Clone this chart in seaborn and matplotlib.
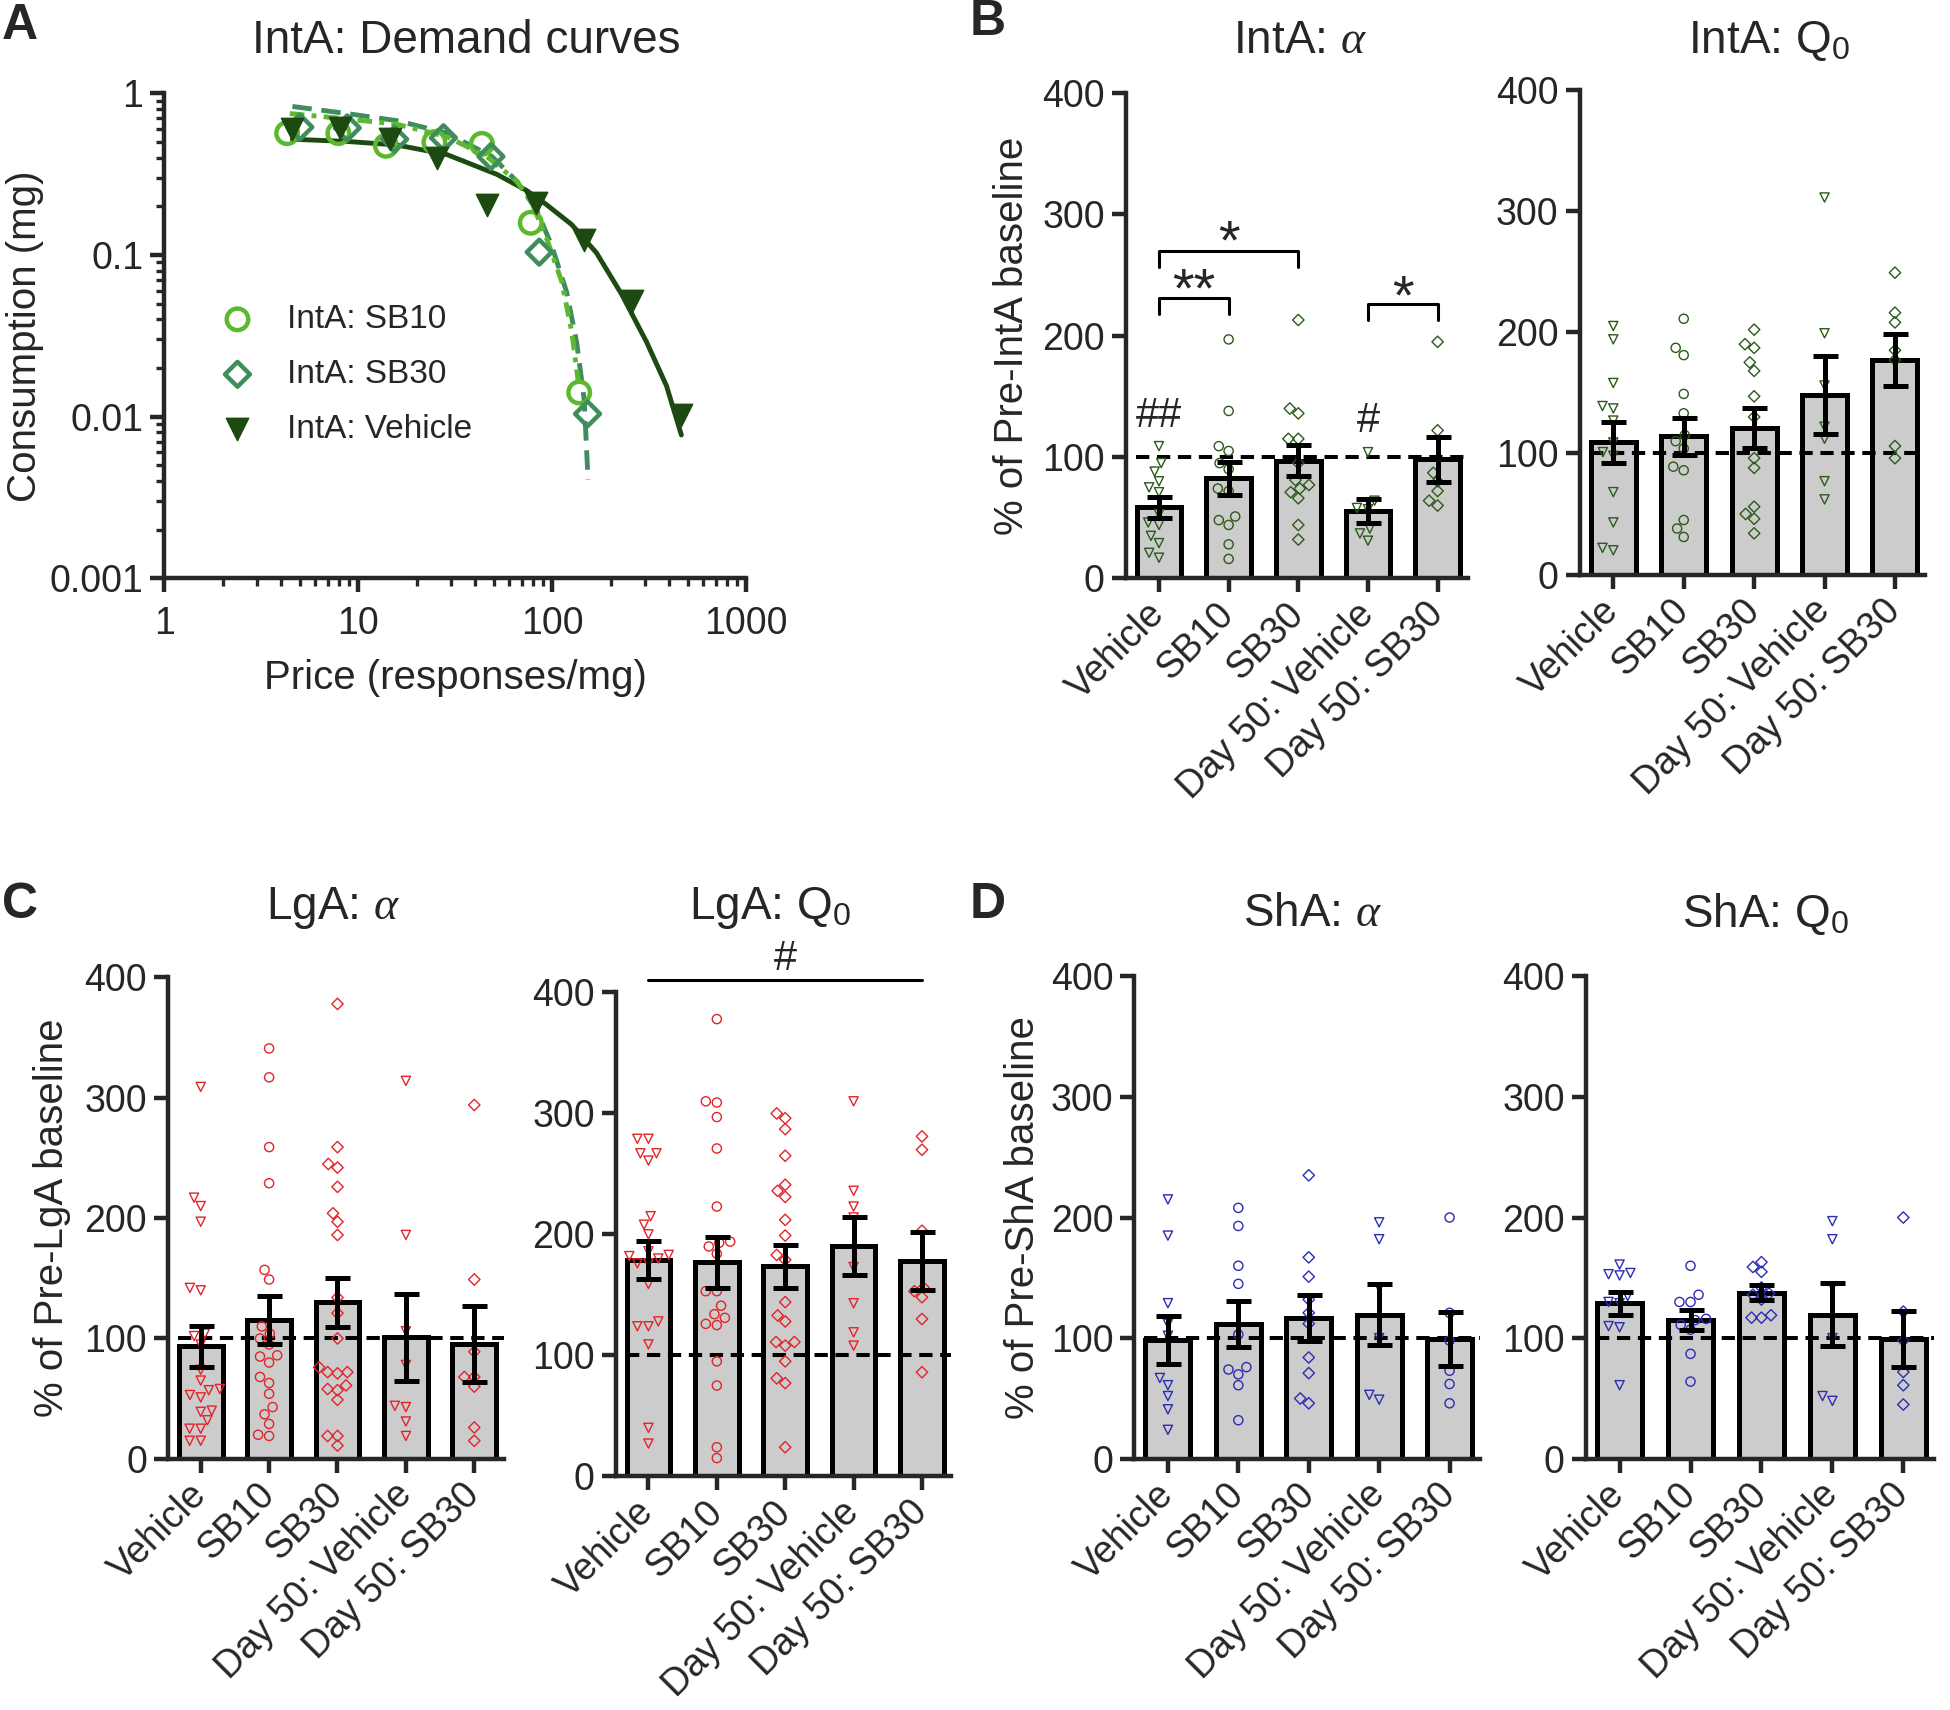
import numpy as np
import pandas as pd
import matplotlib
matplotlib.use("Agg")
import matplotlib.pyplot as plt
import seaborn as sns

sns.set_style("ticks")
plt.rcParams['font.family'] = ['Liberation Sans', 'DejaVu Sans']
plt.rcParams['mathtext.fontset'] = 'custom'
plt.rcParams['mathtext.rm'] = 'Liberation Sans'
plt.rcParams['mathtext.it'] = 'Liberation Serif:italic'

# ---------------- data ----------------
groups = ["Vehicle", "SB10", "SB30", "Day 50: Vehicle", "Day 50: SB30"]

# panel A: demand curves (points)
price_sb10 = [4.3, 7.9, 13.9, 24.7, 43.4, 77.5, 137.7]
cons_sb10 = [0.566, 0.566, 0.473, 0.498, 0.486, 0.158, 0.0141]
price_sb30 = [5.0, 8.78, 15.4, 27.5, 48.3, 85.7, 152]
cons_sb30 = [0.617, 0.61, 0.519, 0.53, 0.406, 0.104, 0.0104]
price_veh = [4.58, 8.03, 14.5, 25.5, 46, 82.2, 146, 259, 463]
cons_veh = [0.60, 0.61, 0.52, 0.40, 0.204, 0.21, 0.123, 0.052, 0.0103]

# panel A: fitted curves
fit_veh_x = [4.58, 8.78, 15.87, 28.7, 51.8, 73.9, 93.7, 126, 169, 228, 306, 388, 463]
fit_veh_y = [0.519, 0.503, 0.478, 0.417, 0.315, 0.25, 0.204, 0.154, 0.103, 0.057, 0.029, 0.0155, 0.0077]
fit_sb10_x = [4.44, 8.78, 15.87, 28.7, 46.0, 65.7, 78.4, 93.7, 111.9, 126, 137.6]
fit_sb10_y = [0.748, 0.693, 0.642, 0.538, 0.406, 0.285, 0.21, 0.126, 0.0684, 0.0336, 0.0149]
fit_sb30_x = [4.58, 8.78, 15.87, 28.7, 48.9, 65.7, 83.2, 99.4, 118.7, 133.6, 146, 153]
fit_sb30_y = [0.828, 0.748, 0.676, 0.566, 0.406, 0.285, 0.189, 0.114, 0.0588, 0.0288, 0.0128, 0.00406]

# panel B: IntA alpha
intA_alpha = [
    [109, 95, 88, 80, 75, 71, 53, 46, 44, 35, 29, 21, 17],
    [197, 138, 109, 105, 95, 90, 74, 72, 51, 48, 44, 28, 16],
    [213, 140, 136, 115, 115, 95, 81, 77, 71, 74, 66, 44, 32],
    [104, 64, 58, 57, 41, 37, 31],
    [195, 122, 87, 80, 72, 64, 60],
]
intA_alpha_mean = [58.5, 82.5, 97, 55.5, 98]
intA_alpha_sem = [8.5, 13.5, 13, 9.5, 18.5]

# panel B: IntA Q0
intA_q0 = [
    [205, 194, 158, 139, 137, 127, 109, 101, 98, 68, 43, 22, 20],
    [211, 187, 181, 149, 133, 115, 110, 104, 89, 86, 45, 38, 31],
    [202, 190, 187, 175, 168, 147, 130, 96, 88, 56, 50, 46, 34],
    [311, 199, 156, 122, 112, 77, 62],
    [249, 216, 208, 185, 177, 106, 96],
]
intA_q0_mean = [109, 114, 121, 148, 177]
intA_q0_sem = [17, 15, 16.5, 32, 21.5]

# panel C: LgA alpha
lgA_alpha = [
    [309, 217, 210, 197, 142, 140, 104, 102, 95, 74, 65, 57, 58, 51, 53, 39, 40, 32, 25, 25, 15, 15],
    [341, 317, 259, 229, 157, 149, 110, 104, 100, 95, 85, 86, 80, 68, 63, 54, 43, 37, 29, 19, 20],
    [378, 259, 245, 242, 226, 204, 197, 186, 134, 121, 100, 76, 72, 71, 72, 61, 57, 58, 49, 19, 19, 11],
    [314, 186, 106, 78, 43, 44, 31, 19],
    [294, 149, 89, 68, 68, 60, 26, 15],
]
lgA_alpha_mean = [93.5, 115.5, 130, 101, 95.5]
lgA_alpha_sem = [17, 20, 20.5, 36, 31.5]

# panel C: LgA Q0
lgA_q0 = [
    [279, 279, 267, 267, 261, 215, 208, 200, 186, 183, 182, 180, 176, 176, 159, 124, 124, 128, 109, 40, 27],
    [378, 309, 310, 297, 271, 223, 193, 194, 190, 184, 153, 153, 141, 134, 131, 126, 125, 95, 75, 24, 15],
    [300, 296, 287, 265, 241, 236, 231, 212, 199, 183, 179, 144, 133, 128, 111, 108, 111, 95, 81, 77, 24],
    [310, 236, 223, 214, 173, 143, 119, 108],
    [281, 270, 203, 156, 153, 148, 130, 86],
]
lgA_q0_mean = [179, 177, 173.5, 190, 178]
lgA_q0_sem = [15.5, 21, 17.5, 24, 24]

# panel D: ShA alpha
shA_alpha = [
    [215, 185, 129, 112, 102, 67, 61, 52, 41, 24],
    [208, 193, 160, 145, 103, 76, 74, 70, 61, 32],
    [235, 167, 151, 132, 121, 112, 84, 71, 50, 46],
    [196, 182, 142, 100, 53, 49],
    [200, 121, 98, 73, 62, 46],
]
shA_alpha_mean = [98.5, 111.5, 116.5, 119.5, 99.5]
shA_alpha_sem = [20, 19, 19, 25, 22.5]

# panel D: ShA Q0
shA_q0 = [
    [161, 153, 152, 154, 135, 129, 130, 110, 109, 61],
    [160, 136, 130, 130, 115, 116, 111, 107, 87, 64],
    [163, 155, 159, 142, 137, 136, 132, 119, 117, 117],
    [197, 182, 143, 100, 52, 48],
    [200, 122, 98, 72, 61, 45],
]
shA_q0_mean = [129, 115, 137.8, 119.5, 99.5]
shA_q0_sem = [9.5, 8.5, 6, 26, 23]

mk_std = ['v', 'o', 'D', 'v', 'D']
mk_sha_alpha = ['v', 'o', 'D', 'v', 'o']

green_pts = "#2b5a1a"
red_pts = "#e2242a"
blue_pts = "#2c2cb4"
c_sb10 = "#5cb82e"
c_sb30 = "#3f8c5c"
c_veh = "#1d4a10"

TICK_FS = 27
LAB_FS = 29
TITLE_FS = 33
LW = 3.2

fig = plt.figure(figsize=(19.5, 17.1), dpi=100)


def style_axes(ax):
    sns.despine(ax=ax)
    for s in ["left", "bottom"]:
        ax.spines[s].set_linewidth(LW)
    ax.tick_params(which="major", length=10, width=LW, labelsize=TICK_FS, pad=5)


def bar_panel(ax, values, means, sems, markers, color, ylabel=None, labelpad=8):
    sns.barplot(x=groups, y=means, order=groups, color="#cccccc", saturation=1,
                edgecolor="black", linewidth=LW + 0.4, width=0.64, errorbar=None,
                ax=ax, zorder=1)
    ax.axhline(100, xmin=0.03, xmax=1, color="black", lw=2.9,
               ls=(0, (3.3, 1.9)), zorder=2)
    for g, vals, m in zip(groups, values, markers):
        sz = 5.8 if m == 'D' else 6.6
        sns.swarmplot(x=[g] * len(vals), y=vals, order=groups, marker=m, size=sz,
                      color=color, facecolor="none", edgecolor=color, linewidth=1.0,
                      ax=ax, zorder=3, warn_thresh=1)
    ax.errorbar(range(len(groups)), means, yerr=sems, fmt="none", ecolor="black",
                elinewidth=LW + 0.4, capsize=9, capthick=LW + 0.4, zorder=4)
    ax.set_xlim(-0.48, 4.43)
    ax.set_ylim(0, 400)
    ax.set_yticks([0, 100, 200, 300, 400])
    ax.set_xticks(range(len(groups)))
    ax.set_xticklabels(groups, rotation=45, ha="right", va="center",
                       rotation_mode="anchor")
    ax.set_xlabel("")
    if ylabel:
        ax.set_ylabel(ylabel, fontsize=LAB_FS, labelpad=labelpad)
    else:
        ax.set_ylabel("")
    style_axes(ax)
    ax.tick_params(axis="x", pad=12)


# ---------------- panel A ----------------
axA = fig.add_axes([0.0842, 0.6618, 0.2985, 0.2837])
axA.set_xscale("log")
axA.set_yscale("log")
sns.lineplot(x=fit_veh_x, y=fit_veh_y, color=c_veh, lw=3.5, estimator=None, sort=False, ax=axA)
sns.lineplot(x=fit_sb30_x, y=fit_sb30_y, color=c_sb30, lw=3.5, ls=(0, (4, 2)), estimator=None, sort=False, ax=axA)
sns.lineplot(x=fit_sb10_x, y=fit_sb10_y, color=c_sb10, lw=3.5, ls=(0, (3, 1.5, 1, 1.5)), estimator=None, sort=False, ax=axA)
sns.scatterplot(x=price_sb10, y=cons_sb10, marker="o", s=240, facecolor="none", edgecolor=c_sb10,
                linewidth=3.2, ax=axA, label="IntA: SB10", zorder=4)
sns.scatterplot(x=price_sb30, y=cons_sb30, marker="D", s=160, facecolor="none", edgecolor=c_sb30,
                linewidth=3.2, ax=axA, label="IntA: SB30", zorder=4)
sns.scatterplot(x=price_veh, y=cons_veh, marker="v", s=260, color=c_veh, edgecolor=c_veh,
                linewidth=1, ax=axA, label="IntA: Vehicle", zorder=5)
axA.set_xlim(1, 1000)
axA.set_ylim(0.001, 1)
axA.set_xticks([1, 10, 100, 1000])
axA.set_xticklabels(["1", "10", "100", "1000"])
axA.set_yticks([0.001, 0.01, 0.1, 1])
axA.set_yticklabels(["0.001", "0.01", "0.1", "1"])
axA.xaxis.set_minor_formatter(matplotlib.ticker.NullFormatter())
axA.yaxis.set_minor_formatter(matplotlib.ticker.NullFormatter())
style_axes(axA)
axA.tick_params(which="minor", length=6, width=2.4)
axA.tick_params(axis="x", pad=10)
axA.set_xlabel("Price (responses/mg)", fontsize=LAB_FS, labelpad=12)
axA.set_ylabel("Consumption (mg)", fontsize=LAB_FS, labelpad=4)
axA.legend(loc="center left", bbox_to_anchor=(0.04, 0.42), frameon=False,
           fontsize=24, handletextpad=0.5, labelspacing=0.72, borderpad=0)

# ---------------- panel B ----------------
axB1 = fig.add_axes([0.5772, 0.6618, 0.1754, 0.2837])
bar_panel(axB1, intA_alpha, intA_alpha_mean, intA_alpha_sem, mk_std, green_pts,
          ylabel="% of Pre-IntA baseline", labelpad=8)
brk = dict(color="black", lw=2.2, clip_on=False, zorder=5)
axB1.plot([0, 0, 1, 1], [218, 231, 231, 218], **brk)
axB1.plot([0, 0, 2, 2], [257, 270, 270, 257], **brk)
axB1.plot([3, 3, 4, 4], [213, 226, 226, 213], **brk)
axB1.text(0.5, 236, "**", ha="center", va="center", fontsize=40)
axB1.text(1.0, 275, "*", ha="center", va="center", fontsize=40)
axB1.text(3.5, 230, "*", ha="center", va="center", fontsize=40)
axB1.text(0, 134, "##", ha="center", va="center", fontsize=30)
axB1.text(3, 130, "#", ha="center", va="center", fontsize=30)

axB2 = fig.add_axes([0.810, 0.664, 0.1773, 0.2836])
bar_panel(axB2, intA_q0, intA_q0_mean, intA_q0_sem, mk_std, green_pts)

# ---------------- panel C ----------------
axC1 = fig.add_axes([0.0861, 0.1469, 0.1722, 0.2815])
bar_panel(axC1, lgA_alpha, lgA_alpha_mean, lgA_alpha_sem, mk_std, red_pts,
          ylabel="% of Pre-LgA baseline", labelpad=10)

axC2 = fig.add_axes([0.3157, 0.1367, 0.1722, 0.2829])
bar_panel(axC2, lgA_q0, lgA_q0_mean, lgA_q0_sem, mk_std, red_pts)
axC2.plot([0, 4], [410, 410], **brk)
axC2.text(2, 428, "#", ha="center", va="center", fontsize=30)

# ---------------- panel D ----------------
axD1 = fig.add_axes([0.5816, 0.1469, 0.1773, 0.2822])
bar_panel(axD1, shA_alpha, shA_alpha_mean, shA_alpha_sem, mk_sha_alpha, blue_pts,
          ylabel="% of Pre-ShA baseline", labelpad=6)

axD2 = fig.add_axes([0.8131, 0.1469, 0.1786, 0.2822])
bar_panel(axD2, shA_q0, shA_q0_mean, shA_q0_sem, mk_std, blue_pts)

# ---------------- titles and panel letters ----------------
fig.text(0.239, 0.976, "IntA: Demand curves", ha="center", va="center", fontsize=TITLE_FS)
fig.text(0.6665, 0.976, r"IntA: $\alpha$", ha="center", va="center", fontsize=TITLE_FS)
fig.text(0.907, 0.976, r"IntA: Q$_0$", ha="center", va="center", fontsize=TITLE_FS)
fig.text(0.171, 0.469, r"LgA: $\alpha$", ha="center", va="center", fontsize=TITLE_FS)
fig.text(0.395, 0.469, r"LgA: Q$_0$", ha="center", va="center", fontsize=TITLE_FS)
fig.text(0.673, 0.4655, r"ShA: $\alpha$", ha="center", va="center", fontsize=TITLE_FS)
fig.text(0.9056, 0.4655, r"ShA: Q$_0$", ha="center", va="center", fontsize=TITLE_FS)

for letter, x, y in [("A", 0.001, 0.985), ("B", 0.497, 0.987), ("C", 0.001, 0.4705), ("D", 0.497, 0.4705)]:
    fig.text(x, y, letter, ha="left", va="center", fontsize=36, fontweight="bold")

fig.savefig("out.png", dpi=100)
